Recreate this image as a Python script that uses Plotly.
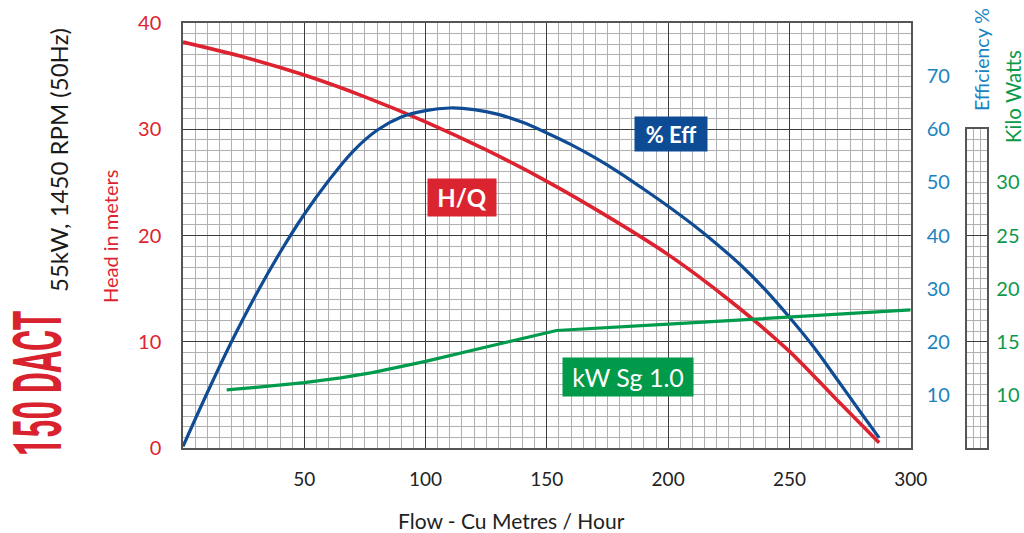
import plotly.graph_objects as go

# ---------------- data ----------------
flow_hq = [0, 25, 50, 75, 100, 125, 150, 175, 200, 225, 250, 268, 287]
head_m = [38.2, 36.8, 35.1, 33.05, 30.7, 28.05, 25.1, 21.8, 18.2, 13.95, 9.1, 4.9, 0.5]

flow_eff = [0, 10, 20, 30, 40, 50, 60, 70, 80, 90, 100, 110, 120, 130, 140, 150, 160,
            170, 180, 190, 200, 210, 220, 230, 240, 250, 260, 270, 280, 287]
eff_pct = [0.3, 10.4, 20.0, 28.8, 36.8, 44.0, 50.3, 55.8, 59.8, 62.3, 63.5, 64.0, 63.7,
           62.8, 61.3, 59.3, 57.1, 54.6, 51.8, 48.7, 45.5, 42.1, 38.4, 34.4, 29.8, 24.6,
           19.0, 12.7, 6.3, 1.9]

flow_kw = [18, 30, 50, 65, 78, 90, 100, 125, 154, 200, 250, 300]
power_kw = [10.47, 10.7, 11.16, 11.6, 12.1, 12.65, 13.15, 14.5, 16.06, 16.65, 17.3, 18.0]

x_ticks = [0, 50, 100, 150, 200, 250, 300]
x_ticktext = ["", "50", "100", "150", "200", "250", "300"]
head_ticks = [0, 10, 20, 30, 40]
eff_ticks = [10, 20, 30, 40, 50, 60, 70]
kw_ticks = [10, 15, 20, 25, 30]

# ---------------- style ----------------
RED = "#DD2330"
BLUE = "#104C93"
GREEN = "#009B4C"
EFF_LBL = "#1A84C0"
KW_LBL = "#0A9A48"
MAJOR = "#3c3c3c"
MINOR = "#b0b0b0"
FONT = "Lato"

W, H = 1024, 533
ML, MR, MT, MB = 183, 34, 23, 85
PW, PH = W - ML - MR, H - MT - MB


def px(x):
    return (x - ML) / PW


def py(y):
    return (H - MB - y) / PH


main_right = px(910.7)
strip_l, strip_r = px(966.7), px(987.3)

fig = go.Figure()
fig.add_trace(go.Scatter(x=flow_hq, y=head_m, mode="lines", xaxis="x", yaxis="y",
                         line=dict(color=RED, width=3.6, shape="spline", smoothing=0.8),
                         hoverinfo="skip", showlegend=False))
fig.add_trace(go.Scatter(x=flow_eff, y=eff_pct, mode="lines", xaxis="x", yaxis="y2",
                         line=dict(color=BLUE, width=3.2, shape="spline", smoothing=1.0),
                         hoverinfo="skip", showlegend=False))
fig.add_trace(go.Scatter(x=flow_kw, y=power_kw, mode="lines", xaxis="x", yaxis="y3",
                         line=dict(color=GREEN, width=3.2),
                         hoverinfo="skip", showlegend=False))
fig.add_trace(go.Scatter(x=[None], y=[None], xaxis="x2", yaxis="y4",
                         hoverinfo="skip", showlegend=False))

common_line = dict(showline=True, mirror=True, linecolor="#555555", linewidth=1.5,
                   zeroline=False, automargin=False, ticks="")

fig.update_layout(
    width=W, height=H,
    margin=dict(l=ML, r=MR, t=MT, b=MB, pad=0),
    paper_bgcolor="white", plot_bgcolor="white",
    font=dict(family=FONT, size=18, color="#222222"),
    xaxis=dict(domain=[0, main_right], range=[0, 300], anchor="y",
               tickmode="array", tickvals=x_ticks, ticktext=x_ticktext,
               showgrid=True, gridcolor=MAJOR, gridwidth=1.2,
               minor=dict(tickmode="linear", tick0=0, dtick=5, showgrid=True,
                          gridcolor=MINOR, gridwidth=1, ticks=""),
               tickfont=dict(family=FONT, size=19, color="#222222"),
               ticklabelstandoff=13, **common_line),
    yaxis=dict(domain=[0, 1], range=[0, 40], anchor="x",
               tickmode="array", tickvals=head_ticks,
               showgrid=True, gridcolor=MAJOR, gridwidth=1.2,
               minor=dict(tickmode="linear", tick0=0, dtick=1, showgrid=True,
                          gridcolor=MINOR, gridwidth=1, ticks=""),
               tickfont=dict(family=FONT, size=20, color=RED),
               ticklabelstandoff=16, **common_line),
    yaxis2=dict(overlaying="y", side="right", anchor="x", range=[0, 80],
                tickmode="array", tickvals=eff_ticks, showgrid=False,
                zeroline=False, showline=False, automargin=False, ticks="",
                tickfont=dict(family=FONT, size=20, color=EFF_LBL),
                ticklabelstandoff=15),
    yaxis3=dict(overlaying="y", side="right", anchor="free", position=strip_r,
                range=[5, 45], tickmode="array", tickvals=kw_ticks, showgrid=False,
                zeroline=False, showline=False, automargin=False, ticks="",
                tickfont=dict(family=FONT, size=20, color=KW_LBL),
                ticklabelstandoff=8),
    xaxis2=dict(domain=[strip_l, strip_r], range=[0, 3], anchor="y4",
                tickmode="linear", tick0=0, dtick=1, showgrid=True,
                gridcolor=MINOR, gridwidth=1, showticklabels=False, **common_line),
    yaxis4=dict(domain=[0, 0.75], range=[5, 35], anchor="x2",
                tickmode="array", tickvals=[15, 25], showticklabels=False,
                showgrid=True, gridcolor=MAJOR, gridwidth=1.2,
                minor=dict(tickmode="linear", tick0=5, dtick=1, showgrid=True,
                           gridcolor=MINOR, gridwidth=1, ticks=""),
                **common_line),
)


def label(xp, yp, text, size, color, family=FONT, angle=0, **kw):
    d = dict(x=px(xp), y=py(yp), xref="paper", yref="paper", text=text,
             xanchor="center", yanchor="middle", showarrow=False, textangle=angle,
             font=dict(family=family, size=size, color=color))
    d.update(kw)
    return d


ann = [
    label(671, 134, "<b>% Eff</b>", 22, "white", bgcolor="#0D4C94", width=72, height=34, borderpad=0),
    label(462, 197.5, "<b>H/Q</b>", 24, "white", bgcolor="#DA2430", width=68, height=37, borderpad=0),
    label(628, 377, "kW Sg 1.0", 25, "white", bgcolor="#009A4A", width=130, height=38, borderpad=0),
    label(38, 384, "<b>150 DACT</b>", 66, "#D8222E", family="Roboto", angle=-90),
    label(58, 160, "55kW, 1450 RPM (50Hz)", 24, "#1a1a1a", angle=-90),
    label(110, 237, "Head in meters", 20, RED, angle=-90),
    label(982, 60, "Efficiency %", 19.5, EFF_LBL, angle=-90),
    label(1013, 97, "Kilo Watts", 20.5, KW_LBL, angle=-90),
    label(511, 520, "Flow - Cu Metres / Hour", 21, "#222222"),
]
fig.update_layout(annotations=ann)

post = """
document.documentElement.style.margin = '0';
document.body.style.margin = '0';
document.body.style.padding = '0';
document.body.style.overflow = 'hidden';
var gd = document.getElementById('{plot_id}');
function squeeze(){
  gd.querySelectorAll('text.annotation-text').forEach(function(t){
    if (t.textContent.indexOf('DACT') >= 0) {
      t.setAttribute('textLength', '146');
      t.setAttribute('lengthAdjust', 'spacingAndGlyphs');
    }
  });
}
squeeze();
gd.on('plotly_afterplot', squeeze);
"""

fig.write_html("out.html", post_script=post, config={"displayModeBar": False})
